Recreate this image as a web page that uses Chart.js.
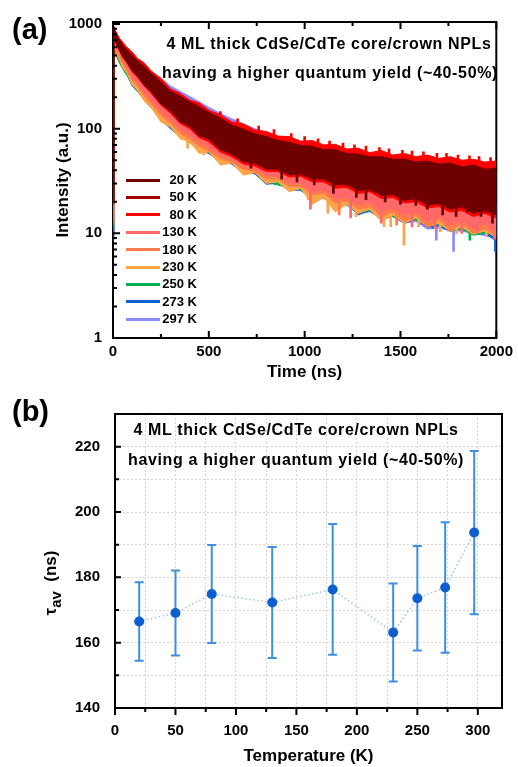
<!DOCTYPE html>
<html><head><meta charset="utf-8">
<script src="https://cdn.jsdelivr.net/npm/chart.js@4.4.1/dist/chart.umd.min.js"></script>
<style>
html,body{margin:0;padding:0;background:#fff;}
#wrap{position:relative;width:518px;height:767px;overflow:hidden;font-family:'Liberation Sans',Arial,sans-serif;font-weight:bold;color:#000;}
canvas{position:absolute;left:0;}
.t{position:absolute;white-space:nowrap;}
.ann{position:absolute;white-space:nowrap;text-align:center;width:420px;font-size:16px;line-height:20px;letter-spacing:0.65px;}
.lg{position:absolute;height:3px;width:34px;}
.lt{position:absolute;width:40px;text-align:right;font-size:13px;line-height:16px;}
</style></head><body>
<div id="wrap">
<canvas id="ca" width="518" height="390" style="top:0"></canvas>
<canvas id="cb" width="518" height="377" style="top:390px"></canvas>
<div class="t" style="left:12px;top:12px;font-size:29px;line-height:34px">(a)</div>
<div class="t" style="left:12px;top:394px;font-size:29px;line-height:34px">(b)</div>
<div class="ann" style="left:119px;top:34px">4 ML thick CdSe/CdTe core/crown NPLs</div>
<div class="ann" style="left:120px;top:63px">having a higher quantum yield (~40-50%)</div>
<div class="ann" style="left:86px;top:420px">4 ML thick CdSe/CdTe core/crown NPLs</div>
<div class="ann" style="left:86px;top:450px">having a higher quantum yield (~40-50%)</div>
<div class="t" style="left:51px;top:583px;transform:translate(-50%,-50%) rotate(-90deg);font-size:17px;line-height:22px">τ<span style="font-size:15px;position:relative;top:5px">av</span>&nbsp; (ns)</div>
<div id="legendA"></div>
</div>
<script>
// ---------- Panel (a): PL decay envelopes ----------
const timeNs = [0,5,10,20,35,50,70,100,130,160, 200,250,300,350,400,450,500,560,620,680, 740,800,860,920,980,1040,1100,1160,1220,1280, 1340,1400,1460,1520,1580,1640,1700,1760,1820,1880, 1940,2000];

const temperatureLabels = ['20 K','50 K','80 K','130 K','180 K','230 K','250 K','273 K','297 K'];
const seriesColors = ['#6e0000','#a30000','#ff0000','#ff6868','#ff7a4d','#ffa545','#00b050','#1262d2','#8a8aff'];

const hi20K = [930,900,850,770,690,630,572,498,440,396, 335,280,228,204,180,162,143,126,108,99, 89,84,77,74,69,68,63,63,58,57, 54,54,51,51,48,49,46,47,43,45, 41,42];
const lo20K = [21,800,735,630,565,488,445,358,320,265, 228,172,150,116,107,85,81,63,58,48, 48,41,42,36,38,33,34,29,30,25.5, 27,23,24,20.5,22,18.5,19.5,17,18.5,15.5, 17,15];
const hi50K = [925,895,845,762,684,622,566,490,436,390, 330,276,226,200,178,160,141,124,107,98, 88,83,76,73,68,67,62,62,57,56, 53,53,50,50,47,48,45,46,42,44, 40,41];
const lo50K = [20,790,740,625,570,492,440,362,316,268, 224,176,146,119,104,87,79,65,56,50, 46,42,40,37,36,34,32,30,28.5,26.5, 25.5,24,23,21.5,21,19.5,19,18,17.5,16.5, 16,15.5];
const hi80K = [960,945,885,815,725,675,605,540,465,430, 355,302,240,218,188,176,150,136,116,111, 97,94,85,84,76,77,70,71,64,65, 59,62,56,58,54,56,52,54,50,51, 48,49];
const lo80K = [19,780,720,615,550,478,430,350,305,258, 216,168,140,112,100,82,75,60,54,46, 44,39,39,34.5,35,31,31,27,27.5,24, 25,21.5,22,19.5,20,17.5,18,16,16.5,14.5, 15.5,14];
const hi130K = [900,870,820,735,660,600,540,470,415,375, 315,262,214,190,168,150,134,118,104,96, 87,81,76,72,67,65,61,60,56,55, 52,52,49,49,46,46,44,44,42,42, 40,40];
const lo130K = [12,760,690,590,510,445,392,312,268,226, 186,146,120,100,86,74,66,56,51,44, 42,36,35,30,30,25,26,21.5,22,19, 20,16.5,17.5,15,16,13,14.5,12,13.5,11, 12.5,10];
const hi180K = [910,880,830,745,670,608,548,478,420,382, 318,268,220,195,172,154,138,122,108,99, 90,84,78,74,69,67,63,62,58,57, 54,54,51,51,48,48,46,46,44,44, 42,42];
const lo180K = [13,740,660,560,480,418,365,290,250,208, 172,134,112,91,79,68,61,52,48,41, 39,33,33,28,28,23.5,24,19.5,20.5,17, 18,14.5,16,13,15,11.5,13.5,10.5,12.5,10, 11,9.5];
const hi230K = [890,855,800,720,645,585,525,455,400,362, 302,255,208,184,162,145,130,115,102,93, 85,79,73,69,64,62,58,57,53,53, 50,50,47,47,44,44,42,42,40,40, 38,38];
const lo230K = [13,700,610,510,450,380,345,262,230,186, 158,116,104,80,75,58,60,45,47,36, 38,30,31,25,27,19,22,16,19,15.5, 17,13,15,12.5,14,11.5,12.5,10.5,11.5,9.8, 10.5,9.2];
const hi250K = [870,830,780,700,630,572,512,445,392,354, 296,250,204,180,159,142,127,112,100,91, 83,77,71,67,63,60,57,55,52,51, 49,48,46,45,43,42,41,40,39,38, 37,36];
const lo250K = [11,640,560,480,420,372,328,272,228,192, 160,124,106,86,76,64,59,50,47,40, 38,32,29,27,26,21,22,18,19,16, 16.5,14,14.5,13,13.5,12,12.2,10.5,11,9.6, 10,9.8];
const hi273K = [880,845,795,712,640,580,520,452,398,360, 300,253,206,182,160,143,128,113,101,92, 84,78,72,68,63,61,57,56,52,52, 49,49,46,46,43,43,41,41,39,39, 37,37];
const lo273K = [8.6,660,580,500,440,385,335,255,226,190, 158,122,100,84,74,62,58,48,46,38, 37,29.5,30,26,26,21,22,17.5,19,15, 16.5,13.5,14.5,12.5,13.5,11.5,11.8,10.5,11,9.7, 10,8.4];
const hi297K = [900,870,820,740,668,612,552,482,434,394, 338,306,256,228,203,181,160,140,124,112, 100,92,85,80,75,71,67,64,61,58, 56,54,52,50,48,47,45,44,43,42, 41,40];
const lo297K = [10,700,600,520,452,395,345,275,235,198, 162,126,106,86,76,64,58,49,46,39, 37,31,30,26,25.5,21.5,21.5,18,18.5,15.5, 16,14,14.5,12.5,13,11,11.2,10.6,10.5,10, 9.5,9];

// individual noise spikes: [time (ns), low, high]
const spikes20K  = [[720,42,70],[880,33,55],[960,31,52],[1050,29,50],[1150,24,45],[1270,22,42],[1320,21,40],[1420,20,39],[1500,19,38],[1580,18.5,37],[1640,17,35],[1720,15,33],[1790,14.5,32],[1850,16,30],[1920,14.5,30],[1980,12.5,30]];
const spikes50K  = [];
const spikes80K  = [[560,120,146],[650,105,124],[760,92,106],[840,86,98],[930,78,90],[1000,73,84],[1070,69,80],[1130,66,76],[1200,63,73],[1260,61,70],[1320,58,68],[1390,56,66],[1440,55,64],[1510,54,62],[1560,53,61],[1620,52,60],[1690,51,58],[1740,50,58],[1800,49,56],[1860,48,55],[1910,47,54],[1970,46,53]];
const spikes130K = [[1030,17,40],[1240,14,33],[1400,12.5,30],[1560,11.5,28],[1680,11,27],[1820,10,25],[1900,10.2,24],[1990,8.8,23]];
const spikes180K = [[1180,15,32],[1480,12,28],[1750,10.5,25]];
const spikes230K = [[389,65,110],[475,56,95],[562,45,78],[777,33,55],[1018,20.8,40],[1121,15.5,32],[1268,14.4,30],[1302,16.7,30],[1371,15,28],[1414,11.6,26],[1449,11.6,25],[1518,7.7,24],[1595,11.6,24],[1707,10.4,22],[1793,10,22],[1871,10,21],[1948,9.3,20]];
const spikes250K = [[846,29,45],[1018,22.4,38],[1628,12.6,22],[1862,8.6,20]];
const spikes273K = [[95,281,380],[318,104,150],[794,31,50],[906,28.3,45],[1670,11.2,22],[1995,6.7,18]];
const spikes297K = [[1687,8.6,20],[1777,6.7,18]];

const highEnvelopes = [hi20K,hi50K,hi80K,hi130K,hi180K,hi230K,hi250K,hi273K,hi297K];
const lowEnvelopes  = [lo20K,lo50K,lo80K,lo130K,lo180K,lo230K,lo250K,lo273K,lo297K];
const spikeSets     = [spikes20K,spikes50K,spikes80K,spikes130K,spikes180K,spikes230K,spikes250K,spikes273K,spikes297K];

const timeTickValues = [0,500,1000,1500,2000];
const timeTickLabels = ['0','500','1000','1500','2000'];
const timeMinorTicks = [250,750,1250,1750];
const intensityTickValues = [1,10,100,1000];
const intensityTickLabels = ['1','10','100','1000'];
const intensityMinorTicks = [2,3,4,5,6,7,8,9,20,30,40,50,60,70,80,90,200,300,400,500,600,700,800,900];

// ---------- Panel (b): average lifetime ----------
const temperatures = [20,50,80,130,180,230,250,273,297];
const tauAv  = [166.5,169.1,174.9,172.3,176.3,163.1,173.6,176.9,193.7];
const tauErr = [12,13,15,17,20,15,16,20,25];
const tempTickValues = [0,50,100,150,200,250,300];
const tempTickLabels = ['0','50','100','150','200','250','300'];
const tempMinorTicks = [25,75,125,175,225,275];
const tauTickValues = [140,160,180,200,220];
const tauTickLabels = ['140','160','180','200','220'];
const tauMinorTicks = [150,170,190,210];
const tempGrid = [0,25,50,75,100,125,150,175,200,225,250,275,300];
const tauGrid = [140,150,160,170,180,190,200,210,220,230];

const FONT = "'Liberation Sans', Arial, sans-serif";
Chart.defaults.font.family = FONT;
Chart.defaults.color = '#000';

function drawFrame(chart){
  const {ctx, chartArea:a} = chart;
  ctx.save(); ctx.strokeStyle='#000'; ctx.lineWidth=2;
  ctx.strokeRect(a.left, a.top, a.right-a.left, a.bottom-a.top);
  ctx.restore();
}
function axisPlugin(id, frameUnder, marks){
  return {
    id,
    beforeDatasetsDraw(chart){ if (frameUnder) drawFrame(chart); },
    afterDatasetsDraw(chart){
      if (!frameUnder) drawFrame(chart);
      const {ctx, chartArea:a, scales} = chart;
      ctx.save(); ctx.strokeStyle='#000'; ctx.lineWidth=2; ctx.beginPath();
      marks.forEach(m => {
        const s = scales[m.axis];
        m.values.forEach(v => {
          const p = s.getPixelForValue(v);
          if (m.side==='bottom'){ ctx.moveTo(p,a.bottom); ctx.lineTo(p,a.bottom-m.len); }
          else if (m.side==='top'){ ctx.moveTo(p,a.top); ctx.lineTo(p,a.top+m.len); }
          else if (m.side==='left'){ ctx.moveTo(a.left,p); ctx.lineTo(a.left+m.len,p); }
        });
      });
      ctx.stroke(); ctx.restore();
    }
  };
}

// ----- Chart (a) -----
const dsA = [];
temperatureLabels.forEach((lab,k) => {
  dsA.push({label:lab, order:k*10, data: timeNs.map((t,i)=>({x:t,y:highEnvelopes[k][i]})),
    borderColor:seriesColors[k], backgroundColor:seriesColors[k], borderWidth:1, fill:'+1', pointRadius:0});
  dsA.push({label:lab+' low', order:k*10, data: timeNs.map((t,i)=>({x:t,y:lowEnvelopes[k][i]})),
    borderColor:seriesColors[k], backgroundColor:seriesColors[k], borderWidth:1, fill:false, pointRadius:0});
});
temperatureLabels.forEach((lab,k) => {
  dsA.push({type:'bar', label:lab+' spikes', order:k*10+5, grouped:false, barThickness:2,
    data: spikeSets[k].map(s=>({x:s[0], y:[s[1], s[2]]})),
    backgroundColor:seriesColors[k], borderWidth:0});
});
const tickFont = {family:FONT, size:15, weight:'bold'};
const titleFont = {family:FONT, size:17, weight:'bold'};

new Chart(document.getElementById('ca'), {
  type:'line',
  data:{datasets:dsA},
  options:{
    responsive:false, animation:false, devicePixelRatio:1,
    layout:{padding:{left:0,top:22,right:18,bottom:0}},
    plugins:{legend:{display:false}, tooltip:{enabled:false}},
    elements:{line:{tension:0}},
    scales:{
      x:{type:'linear', min:0, max:2000, offset:false,
        grid:{display:false, drawTicks:false, offset:false}, border:{display:false},
        afterBuildTicks:s=>{ s.ticks = timeTickValues.map(v=>({value:v})); },
        afterFit:s=>{ s.height = 52; },
        ticks:{padding:5, font:tickFont, color:'#000', maxRotation:0, autoSkip:false,
          callback:(v,i)=>timeTickLabels[i]},
        title:{display:true, text:'Time (ns)', font:titleFont, color:'#000', padding:{top:0,bottom:7}}
      },
      y:{type:'logarithmic', min:1, max:1045, beginAtZero:false,
        grid:{display:false, drawTicks:false}, border:{display:false},
        afterBuildTicks:s=>{ s.ticks = intensityTickValues.map(v=>({value:v})); },
        afterFit:s=>{ s.width = 113; },
        ticks:{padding:11, font:tickFont, color:'#000', autoSkip:false,
          callback:(v,i)=>intensityTickLabels[i]},
        title:{display:true, text:'Intensity (a.u.)', font:titleFont, color:'#000', padding:{top:53,bottom:0}}
      }
    }
  },
  plugins:[axisPlugin('axesA', true, [
    {axis:'x', side:'bottom', values:timeTickValues, len:7},
    {axis:'x', side:'bottom', values:timeMinorTicks, len:4},
    {axis:'x', side:'top', values:timeTickValues, len:7},
    {axis:'x', side:'top', values:timeMinorTicks, len:4},
    {axis:'y', side:'left', values:intensityTickValues, len:7},
    {axis:'y', side:'left', values:intensityMinorTicks, len:4}
  ])]
});

// legend (a)
const lg = document.getElementById('legendA');
temperatureLabels.forEach((lab,k)=>{
  const yc = 180 + k*17.4;
  const sw = document.createElement('div'); sw.className='lg';
  sw.style.left='126px'; sw.style.top=(yc-1.5)+'px'; sw.style.background=seriesColors[k];
  const tx = document.createElement('div'); tx.className='lt';
  tx.style.left='157px'; tx.style.top=(yc-8)+'px'; tx.textContent=lab;
  lg.appendChild(sw); lg.appendChild(tx);
});

// ----- Chart (b) -----
const errorBars = {
  id:'errorBars',
  beforeDatasetsDraw(chart){
    const {ctx, scales:{x,y}} = chart;
    ctx.save(); ctx.strokeStyle='#3d8fe2'; ctx.lineWidth=2;
    temperatures.forEach((t,i)=>{
      const px = x.getPixelForValue(t);
      const yTop = y.getPixelForValue(tauAv[i]+tauErr[i]);
      const yBot = y.getPixelForValue(tauAv[i]-tauErr[i]);
      ctx.beginPath();
      ctx.moveTo(px,yTop); ctx.lineTo(px,yBot);
      ctx.moveTo(px-4.5,yTop); ctx.lineTo(px+4.5,yTop);
      ctx.moveTo(px-4.5,yBot); ctx.lineTo(px+4.5,yBot);
      ctx.stroke();
    });
    ctx.restore();
  }
};

new Chart(document.getElementById('cb'), {
  type:'line',
  data:{datasets:[{
    label:'tau_av',
    data: temperatures.map((t,i)=>({x:t,y:tauAv[i]})),
    borderColor:'#9cc3ef', borderWidth:1.5, borderDash:[1.5,2.5], fill:false,
    pointRadius:5, pointHoverRadius:5, pointBackgroundColor:'#0d5fd0', pointBorderColor:'#0d5fd0', pointBorderWidth:0
  }]},
  options:{
    responsive:false, animation:false, devicePixelRatio:1,
    layout:{padding:{left:0,top:18,right:16,bottom:0}},
    plugins:{legend:{display:false}, tooltip:{enabled:false}},
    elements:{line:{tension:0}},
    scales:{
      x:{type:'linear', min:0, max:320,
        grid:{display:true, drawTicks:false, color:'#d6d6d6', lineWidth:1}, border:{display:false, dash:[2,2]},
        afterBuildTicks:s=>{ s.ticks = tempGrid.map(v=>({value:v})); },
        afterFit:s=>{ s.height = 59; },
        ticks:{padding:14, font:tickFont, color:'#000', maxRotation:0, autoSkip:false,
          callback:(v)=>{ const j = tempTickValues.indexOf(v); return j>=0 ? tempTickLabels[j] : ''; }},
        title:{display:true, text:'Temperature (K)', font:titleFont, color:'#000', padding:{top:0,bottom:0}}
      },
      y:{type:'linear', min:140, max:230,
        grid:{display:true, drawTicks:false, color:'#d6d6d6', lineWidth:1}, border:{display:false, dash:[2,2]},
        afterBuildTicks:s=>{ s.ticks = tauGrid.map(v=>({value:v})); },
        afterFit:s=>{ s.width = 115; },
        ticks:{padding:15, font:tickFont, color:'#000', autoSkip:false,
          callback:(v)=>{ const j = tauTickValues.indexOf(v); return j>=0 ? tauTickLabels[j] : ''; }},
        title:{display:false}
      }
    }
  },
  plugins:[errorBars, axisPlugin('axesB', false, [
    {axis:'x', side:'bottom', values:tempTickValues, len:-7},
    {axis:'x', side:'bottom', values:tempMinorTicks, len:-4},
    {axis:'y', side:'left', values:tauTickValues, len:6},
    {axis:'y', side:'left', values:tauMinorTicks, len:4}
  ])]
});
</script>
</body></html>
